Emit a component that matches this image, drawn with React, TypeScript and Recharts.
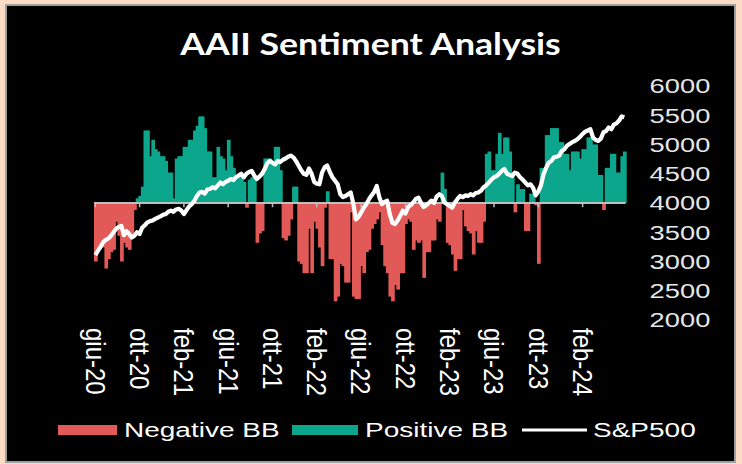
import { Bar, ComposedChart, Line, ReferenceLine, XAxis, YAxis } from 'recharts';

// weekly AAII bull-bear spread (%)
const BB_SPREAD = [
  -25, -20, -18, -19, -28, -24, -21, -20, -8, -14,
  -25, -17, -19, -20, -15, -3, 2, 3, 7, 31,
  31, 20, 27, 23, 22, 20, 20, 18, 13, 13,
  2, 19, 20, 20, 24, 24, 27, 27, 31, 33,
  37, 37, 32, 22, 22, 11, 11, 24, 20, 19,
  14, 27, 20, 15, 10, 12, 12, 9, -2, 10,
  11, 11, -17, -13, -12, 19, 19, 19, 18, 24,
  24, 14, -15, -16, -14, -7, 7, 7, -25, -26,
  -30, -30, -11, -30, -8, -11, -19, -27, -2, 5,
  -24, -24, -42, -40, -26, -27, -34, -34, -4, -40,
  -41, -41, -27, -30, -21, -20, -11, -9, -7, -4,
  -18, -27, -30, -40, -42, -35, -37, -30, -30, -9,
  -7, -8, -20, -16, -17, -16, -32, -21, -21, -16,
  -16, -7, -8, 13, 6, -17, -18, -22, -29, -24,
  -24, -3, -10, -12, -13, -22, -12, -17, -17, -8,
  21, 22, 14, 14, 21, 30, 21, 28, 28, 22,
  12, -4, 8, 6, 6, -12, -12, 4, 4, -1,
  -26, 15, 15, 29, 29, 32, 32, 32, 26, 26,
  21, 21, 14, 22, 22, 22, 19, 23, 23, 28,
  28, 25, 25, 12, 12, -3, 15, 15, 21, 21,
  13, 13, 20, 22,
];

// weekly S&P500 close
const SP500 = [
  3110, 3180, 3250, 3330, 3370, 3390, 3440, 3500, 3560, 3590,
  3610, 3450, 3520, 3470, 3410, 3440, 3500, 3470, 3580, 3620,
  3670, 3690, 3700, 3730, 3750, 3770, 3800, 3810, 3850, 3870,
  3850, 3890, 3900, 3870, 3810, 3880, 3940, 3980, 4040, 4120,
  4180, 4190, 4160, 4230, 4240, 4270, 4250, 4300, 4350, 4320,
  4360, 4380, 4410, 4390, 4440, 4470, 4500, 4440, 4500, 4530,
  4550, 4470, 4410, 4450, 4500, 4580, 4680, 4720, 4690, 4660,
  4720, 4700, 4740, 4760, 4790, 4810, 4780, 4720, 4640, 4560,
  4500, 4480, 4590, 4500, 4360, 4330, 4320, 4520, 4610, 4640,
  4530, 4440, 4380, 4320, 4150, 4100, 4120, 4150, 4180, 3990,
  3720, 3760, 3840, 3920, 3980, 4060, 4130, 4190, 4290, 4100,
  3980, 4020, 4040, 3810, 3660, 3640, 3700, 3780, 3870, 3820,
  3930, 3960, 4010, 4070, 4090, 4000, 3930, 3960, 4000, 4040,
  4000, 4110, 4150, 4120, 4010, 3980, 3950, 3920, 4010, 4070,
  4120, 4100, 4130, 4120, 4150, 4130, 4170, 4180, 4210, 4270,
  4300, 4350, 4400, 4440, 4460, 4500, 4550, 4580, 4500, 4480,
  4460, 4520, 4500, 4440, 4400, 4350, 4300, 4320, 4260, 4130,
  4200, 4300, 4490, 4600, 4690, 4720, 4780, 4790, 4810, 4890,
  4920, 4980, 5010, 5040, 5060, 5090, 5130, 5180, 5220, 5240,
  5260, 5120, 5080, 5060, 5100, 5210, 5230, 5290, 5260, 5340,
  5360, 5410, 5480, 5465,
];

const TICK_LABELS = [
  'giu-20', 'ott-20', 'feb-21', 'giu-21', 'ott-21', 'feb-22',
  'giu-22', 'ott-22', 'feb-23', 'giu-23', 'ott-23', 'feb-24',
];
const WEEKS_PER_TICK = 17;
const SP_TICKS = [2000, 2500, 3000, 3500, 4000, 4500, 5000, 5500, 6000];

const RED = '#E25A58';
const TEAL = '#0CA68C';
const AXIS_GREY = '#BFBFBF';
const FONT = '"Liberation Sans", Arial, sans-serif';

const data = BB_SPREAD.map((bb, i) => ({ week: i, bb, sp: SP500[i] }));
const xTicks = TICK_LABELS.map((_, k) => k * WEEKS_PER_TICK);

function BarShape(props: any) {
  const { x, y, width, height, payload } = props;
  if (height == null || width == null) return null;
  const top = height < 0 ? y + height : y;
  return (
    <rect
      x={x}
      y={top}
      width={width + 0.7}
      height={Math.abs(height)}
      fill={payload.bb < 0 ? RED : TEAL}
    />
  );
}

function MonthTick(props: any) {
  const { x, y, payload } = props;
  const label = TICK_LABELS[Math.round(payload.value / WEEKS_PER_TICK)];
  return (
    <text
      transform={`translate(${x},${y}) scale(1.15,1) rotate(90)`}
      textAnchor="start"
      dominantBaseline="central"
      fill="#FFFFFF"
      fontSize={24}
      fontFamily={FONT}
    >
      {label}
    </text>
  );
}

function PriceTick(props: any) {
  const { x, y, payload } = props;
  return (
    <text
      transform={`translate(${x},${y}) scale(1.3,1)`}
      textAnchor="start"
      dominantBaseline="central"
      fill="#E6E6E6"
      fontSize={21}
      fontFamily={FONT}
    >
      {payload.value}
    </text>
  );
}

export default function App() {
  return (
    <div
      style={{
        position: 'fixed',
        left: 0,
        top: 0,
        width: 742,
        height: 464,
        background: '#FDDCC6',
        overflow: 'hidden',
      }}
    >
      <div
        style={{
          position: 'absolute',
          left: 5,
          top: 4,
          width: 731,
          height: 459,
          boxSizing: 'border-box',
          border: '2px solid #A0A0A0',
          background: '#000000',
        }}
      />
      <div style={{ position: 'absolute', left: 0, top: 0 }}>
        <ComposedChart
          width={742}
          height={464}
          data={data}
          margin={{ top: 86, right: 0, bottom: 64, left: 94 }}
          barCategoryGap={0}
          barGap={0}
        >
          <XAxis
            dataKey="week"
            type="category"
            ticks={xTicks}
            interval={0}
            tick={<MonthTick />}
            tickLine={false}
            axisLine={false}
            tickSize={0}
            tickMargin={8}
            height={80}
          />
          <YAxis yAxisId="bb" hide domain={[-50, 50]} />
          <YAxis
            yAxisId="sp"
            orientation="right"
            domain={[2000, 6000]}
            ticks={SP_TICKS}
            interval={0}
            tick={<PriceTick />}
            tickLine={false}
            axisLine={false}
            tickSize={0}
            tickMargin={24}
            width={116.4}
          />
          <Bar yAxisId="bb" dataKey="bb" shape={BarShape} isAnimationActive={false} />
          <ReferenceLine yAxisId="bb" y={0} stroke={AXIS_GREY} strokeWidth={2} />
          {xTicks.map((t) => (
            <ReferenceLine
              key={t}
              yAxisId="bb"
              segment={[
                { x: t, y: 0 },
                { x: t, y: -1.8 },
              ]}
              stroke={AXIS_GREY}
              strokeWidth={1.5}
            />
          ))}
          <Line
            yAxisId="sp"
            dataKey="sp"
            type="linear"
            stroke="#FFFFFF"
            strokeWidth={4.2}
            strokeLinejoin="round"
            dot={false}
            isAnimationActive={false}
          />
        </ComposedChart>
      </div>
      <svg
        width={742}
        height={464}
        style={{ position: 'absolute', left: 0, top: 0, pointerEvents: 'none' }}
      >
        <text
          transform="translate(370.5,55) scale(1.15,1)"
          textAnchor="middle"
          fill="#FFFFFF"
          fontSize={31}
          fontWeight={700}
          fontFamily="Lato, sans-serif"
        >
          AAII Sentiment Analysis
        </text>
        <rect x={58} y={425} width={59} height={10} fill={RED} />
        <text transform="translate(124,437) scale(1.4,1)" fill="#FFFFFF" fontSize={20} fontFamily={FONT}>
          Negative BB
        </text>
        <rect x={292} y={425} width={66} height={10} fill={TEAL} />
        <text transform="translate(365,437) scale(1.4,1)" fill="#FFFFFF" fontSize={20} fontFamily={FONT}>
          Positive BB
        </text>
        <line x1={522} x2={587} y1={430} y2={430} stroke="#FFFFFF" strokeWidth={3} />
        <text transform="translate(593,437) scale(1.4,1)" fill="#FFFFFF" fontSize={20} fontFamily={FONT}>
          S&amp;P500
        </text>
      </svg>
    </div>
  );
}
